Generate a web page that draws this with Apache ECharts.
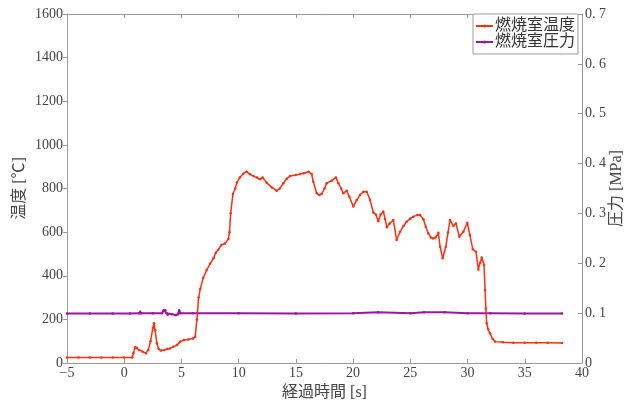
<!DOCTYPE html>
<html>
<head>
<meta charset="utf-8">
<script src="https://cdn.jsdelivr.net/npm/echarts@6/dist/echarts.min.js"></script>
<style>
html,body{margin:0;padding:0;background:#fff;}
#c{width:637px;height:403px;}
</style>
</head>
<body>
<div id="c"></div>
<script>
// Temperature [time s, °C]
var tempData = [
[-5,25],[-4,25],[-3,25],[-2,25],[-1,25],[0,25],[0.7,25],[0.8,45],[0.95,72],[1.1,70],[1.3,60],[1.6,52],[1.9,45],
[2.1,60],[2.3,100],[2.5,160],[2.6,182],[2.7,150],[2.85,90],[3.0,65],[3.2,57],[3.5,60],[3.8,65],[4.0,67],[4.3,75],
[4.6,82],[4.9,98],[5.2,105],[5.6,108],[6.0,112],[6.2,120],[6.35,200],[6.5,300],[6.65,340],[6.9,390],[7.2,426],
[7.5,455],[7.8,480],[8.0,505],[8.2,518],[8.5,541],[8.8,548],[9.1,568],[9.2,600],[9.3,686],[9.5,775],[9.7,800],
[9.85,828],[10.1,850],[10.4,868],[10.7,877],[11.0,865],[11.3,857],[11.6,850],[11.86,842],[12.1,851],[12.45,826],
[12.9,805],[13.32,790],[13.6,800],[13.9,824],[14.2,845],[14.49,857],[15.0,862],[15.36,866],[15.7,870],[16.09,877],
[16.38,866],[16.52,831],[16.82,778],[17.05,770],[17.25,775],[17.5,800],[17.69,824],[18.13,836],[18.5,851],
[18.71,824],[18.95,800],[19.14,778],[19.44,790],[19.67,762],[20.02,717],[20.31,747],[20.6,770],[20.89,785],
[21.19,785],[21.48,747],[21.77,690],[22.0,680],[22.2,650],[22.4,680],[22.64,694],[22.8,660],[22.95,622],[23.2,640],
[23.51,656],[23.8,564],[24.1,602],[24.4,628],[24.68,648],[25.0,662],[25.26,671],[25.6,678],[25.85,679],[26.14,659],
[26.35,625],[26.57,594],[26.8,575],[27.0,571],[27.2,575],[27.45,597],[27.6,533],[27.83,480],[28.1,533],[28.3,600],
[28.47,656],[28.76,628],[28.99,640],[29.28,579],[29.63,602],[29.98,643],[30.2,587],[30.46,521],[30.74,510],
[30.94,429],[31.1,460],[31.24,484],[31.44,449],[31.53,335],[31.6,250],[31.67,182],[31.8,155],[31.96,136],
[32.2,110],[32.4,98],[33.1,95],[34,93],[35,93],[36,93],[37,93],[38.25,92]
];
// Pressure [time s, MPa]
var pressData = [
[-5,0.0995],[-3,0.0995],[-1,0.0995],[0.5,0.0995],[1.3,0.1],[1.4,0.103],[1.5,0.1],[2.5,0.1],[3.3,0.1],
[3.45,0.106],[3.6,0.106],[3.7,0.1],[3.8,0.097],[4.2,0.098],[4.5,0.096],[4.7,0.098],[4.8,0.106],[4.9,0.1],
[6,0.1],[10,0.1],[15,0.0995],[20,0.1],[22.2,0.102],[25,0.1],[26.2,0.102],[28,0.102],[30,0.1],[32,0.1],
[35,0.0995],[38.25,0.0995]
];
var xTicks = {min:-5, max:40, interval:5};
var tempTicks = {min:0, max:1600, interval:200};
var pressTicks = {min:0, max:0.7, interval:0.1};
var seriesNames = ['燃焼室温度','燃焼室圧力'];

var FONT = "'Liberation Serif','Noto Sans CJK JP',serif";
var axisLineStyle = {color:'#9a9a9a', width:1};
var labelStyle = {color:'#444', fontFamily:FONT, fontSize:14};

var chart = echarts.init(document.getElementById('c'), null, {renderer:'canvas'});
chart.setOption({
  animation:false,
  backgroundColor:'#fff',
  grid:{left:67, right:55, top:14, bottom:40, containLabel:false, outerBoundsMode:'none'},
  legend:{
    data:seriesNames, orient:'vertical', left:473, top:14,
    backgroundColor:'#fff', borderColor:'#9a9a9a', borderWidth:1, borderRadius:0,
    padding:[4,3,4,2], itemGap:0, itemWidth:17, itemHeight:4,
    textStyle:{fontFamily:FONT, fontSize:16, color:'#333', padding:[0,0,0,-3], lineHeight:16}
  },
  xAxis:[{
    type:'value', min:xTicks.min, max:xTicks.max, interval:xTicks.interval,
    name:'経過時間 [s]', nameLocation:'middle', nameGap:22, nameMoveOverlap:false,
    nameTextStyle:{fontFamily:FONT, fontSize:16, color:'#444'},
    axisLine:{onZero:false, lineStyle:axisLineStyle},
    axisTick:{inside:true, length:4, lineStyle:axisLineStyle},
    axisLabel:Object.assign({margin:3, formatter:function(v){return v<0?'\u2212'+(-v):String(v);}}, labelStyle),
    splitLine:{show:false}
  },{
    type:'value', position:'top', min:xTicks.min, max:xTicks.max, interval:xTicks.interval,
    axisLine:{onZero:false, lineStyle:axisLineStyle},
    axisTick:{inside:true, length:4, lineStyle:axisLineStyle},
    axisLabel:{show:false}, splitLine:{show:false}
  }],
  yAxis:[{
    type:'value', position:'left', min:tempTicks.min, max:tempTicks.max, interval:tempTicks.interval,
    name:'温度 [℃]', nameLocation:'middle', nameGap:39, nameMoveOverlap:false,
    nameTextStyle:{fontFamily:FONT, fontSize:16, color:'#444'},
    axisLine:{show:true, onZero:false, lineStyle:axisLineStyle},
    axisTick:{show:true, inside:false, length:4, lineStyle:axisLineStyle},
    axisLabel:Object.assign({margin:4, formatter:function(v){return String(v);}}, labelStyle),
    splitLine:{show:false}
  },{
    type:'value', position:'right', min:pressTicks.min, max:pressTicks.max, interval:pressTicks.interval,
    name:'圧力 [MPa]', nameLocation:'middle', nameGap:27, nameMoveOverlap:false,
    nameTextStyle:{fontFamily:FONT, fontSize:16, color:'#444'},
    axisLine:{show:true, onZero:false, lineStyle:axisLineStyle},
    axisTick:{show:true, inside:true, length:4, lineStyle:axisLineStyle},
    axisLabel:Object.assign({margin:3, formatter:function(v){return v===0?'0':v.toFixed(1).replace('.', '. ');}}, labelStyle),
    splitLine:{show:false}
  }],
  series:[{
    name:seriesNames[0], type:'line', xAxisIndex:0, yAxisIndex:0, data:tempData,
    symbol:'circle', symbolSize:2.5, showSymbol:true,
    lineStyle:{color:'#ff3010', width:1.5}, itemStyle:{color:'#ff3010'}, z:3
  },{
    name:seriesNames[1], type:'line', xAxisIndex:0, yAxisIndex:1, data:pressData,
    symbol:'circle', symbolSize:2.5, showSymbol:true,
    lineStyle:{color:'#a012a8', width:2}, itemStyle:{color:'#a012a8'}, z:2
  }]
});
</script>
</body>
</html>
